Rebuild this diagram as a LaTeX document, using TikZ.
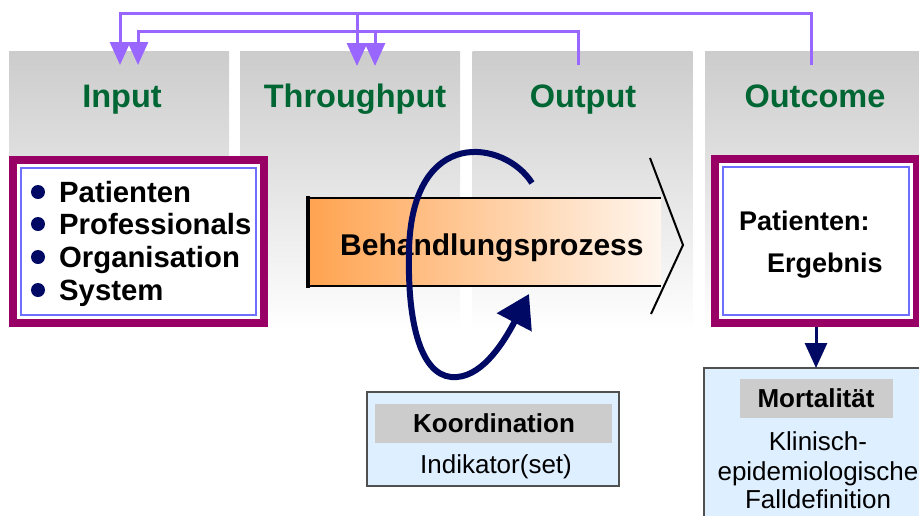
\documentclass[tikz,border=0pt]{standalone}
\usepackage{fontspec}
\setmainfont{Liberation Sans}
\usetikzlibrary{arrows.meta}
\definecolor{panelgray}{RGB}{204,204,204}
\definecolor{headgreen}{RGB}{0,102,51}
\definecolor{fbpurple}{RGB}{153,102,255}
\definecolor{maroon}{RGB}{153,0,102}
\definecolor{blueline}{RGB}{110,110,255}
\definecolor{navy}{RGB}{0,10,100}
\definecolor{orangeL}{RGB}{255,163,80}
\definecolor{orangeR}{RGB}{255,246,238}
\definecolor{lightblue}{RGB}{222,239,255}
\definecolor{bandgray}{RGB}{204,204,204}
\definecolor{boxgray}{RGB}{80,80,80}
\tikzstyle{panel}=[inner sep=0pt, outer sep=0pt, minimum width=220pt, minimum height=280pt, top color=panelgray, bottom color=white]
\tikzstyle{head}=[anchor=base, inner sep=0pt, text=headgreen, font=\fontsize{32.5}{38}\selectfont\bfseries]
\tikzstyle{item}=[anchor=base west, inner sep=0pt, font=\fontsize{29.3}{34}\selectfont\bfseries]
\tikzstyle{dot}=[circle, fill=navy, inner sep=0pt, minimum size=14pt]
\tikzstyle{fb}=[draw=fbpurple, line width=3pt, -{Triangle[length=23pt,width=20pt]}]
\tikzstyle{frame}=[fill=maroon, inner sep=0pt, outer sep=0pt]
\tikzstyle{gap}=[fill=white, inner sep=0pt, outer sep=0pt]
\tikzstyle{rim}=[draw=blueline, line width=2.5pt, inner sep=0pt, outer sep=0pt]
\tikzstyle{indbox}=[draw=boxgray, line width=1.2pt, fill=lightblue, inner sep=0pt, outer sep=0pt]
\tikzstyle{band}=[fill=bandgray, inner sep=0pt]
\tikzstyle{lbl}=[anchor=base, inner sep=0pt, font=\fontsize{26}{31}\selectfont]
\tikzstyle{kreis}=[draw=navy, line width=6pt, -{Triangle[length=32pt,width=38pt]}]
\tikzstyle{down}=[draw=navy, line width=3pt, -{Triangle[length=25pt,width=22pt]}]

\begin{document}
\begin{tikzpicture}[x=1pt, y=-1pt]
    \useasboundingbox (0,0) rectangle (919,515);
    \clip (0,0) rectangle (919,515);
    \node[panel] (pin) at (119,191) {};
    \node[panel] (pthr) at (350,191) {};
    \node[panel] (pout) at (582.5,191) {};
    \node[panel] (poutc) at (815,191) {};
    \node[head] (hin) at (122,107) {Input};
    \node[head] (hthr) at (355,107) {Throughput};
    \node[head] (hout) at (583,107) {Output};
    \node[head] (houtc) at (815,107) {Outcome};
    \coordinate (in1) at (120,65);
    \coordinate (in2) at (138,65);
    \coordinate (thr1) at (357,66);
    \coordinate (thr2) at (375,66);
    \coordinate (outport) at (578,65);
    \coordinate (outcport) at (811,65);
    \coordinate (j1) at (357,13);
    \coordinate (j2) at (375,31);
    \draw[fb] (outcport) -- ++(0,-52) -| (in1);
    \draw[fb] (outport) -- ++(0,-34) -| (in2);
    \draw[fb] (j1) -- (thr1);
    \draw[fb] (j2) -- (thr2);
    \node[frame, minimum width=259pt, minimum height=171pt] (fin) at (138.5,241.5) {};
    \node[gap, minimum width=243pt, minimum height=155pt] (gin) at (fin) {};
    \node[rim, minimum width=235pt, minimum height=147pt] (rin) at (fin) {};
    \node[dot] (d1) at (38,192) {};
    \node[dot] (d2) at (38,224) {};
    \node[dot] (d3) at (38,257) {};
    \node[dot] (d4) at (38,290) {};
    \node[item] (p1) at (59,202) {Patienten};
    \node[item] (p2) at (59,234) {Professionals};
    \node[item] (p3) at (59,267) {Organisation};
    \node[item] (p4) at (59,300) {System};
    \node[inner sep=0pt, outer sep=0pt, minimum width=353pt, minimum height=88pt, left color=orangeL, right color=orangeR] (proz) at (484.5,242) {};
    \draw[line width=2.5pt] (proz.north west) -- (proz.north east);
    \draw[line width=2.5pt] (proz.south west) -- (proz.south east);
    \draw[line width=3.5pt] ([yshift=2pt]proz.north west) -- ([yshift=-2pt]proz.south west);
    \draw[line width=2pt] (650,158) -- (683,245) -- (651,314);
    \node[item, font=\fontsize{30}{35}\selectfont\bfseries] (tproz) at (340,255) {Behandlungsprozess};
    \draw[kreis] (532,183) .. controls (505,140) and (412,125) .. (409,250)
        .. controls (407,335) and (425,380) .. (457,377)
        .. controls (484,375) and (505,340) .. (529,294);
    \node[indbox, minimum width=252pt, minimum height=94pt] (koord) at (493,439) {};
    \node[band, minimum width=237pt, minimum height=39pt] (kband) at (493.5,423.5) {};
    \node[lbl, font=\fontsize{26}{31}\selectfont\bfseries] (tkoord) at (494,432) {Koordination};
    \node[lbl] (tind) at (496,473) {Indikator(set)};
    \node[frame, minimum width=210pt, minimum height=172pt] (ferg) at (816,241) {};
    \node[gap, minimum width=194pt, minimum height=156pt] (gerg) at (ferg) {};
    \node[rim, minimum width=186pt, minimum height=148pt] (rerg) at (ferg) {};
    \node[item, font=\fontsize{27}{32}\selectfont\bfseries] (e1) at (739,230) {Patienten:};
    \node[item, font=\fontsize{27}{32}\selectfont\bfseries] (e2) at (767,272) {Ergebnis};
    \node[indbox, minimum width=224pt, minimum height=160pt] (mort) at (816,448) {};
    \draw[down] (ferg.south) -- (mort.north);
    \node[band, minimum width=153pt, minimum height=39pt] (mband) at (816.5,398.5) {};
    \node[lbl, font=\fontsize{26}{31}\selectfont\bfseries] (tmort) at (816,407) {Mortalität};
    \node[lbl] (m1) at (818,450) {Klinisch-};
    \node[lbl] (m2) at (818,480) {epidemiologische};
    \node[lbl] (m3) at (818,508) {Falldefinition};
\end{tikzpicture}
\end{document}
